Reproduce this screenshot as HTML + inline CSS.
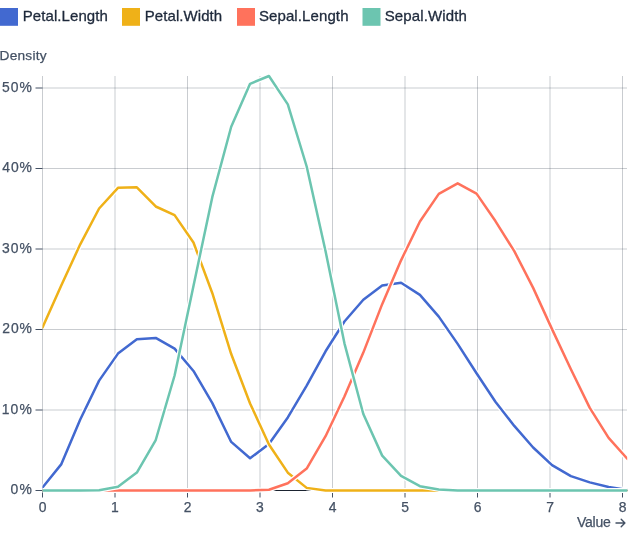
<!DOCTYPE html>
<html><head><meta charset="utf-8"><style>
html,body{margin:0;padding:0;background:#fff;width:640px;height:546px;overflow:hidden}
svg{display:block;font-family:"Liberation Sans",sans-serif;will-change:transform}
</style></head><body>
<svg width="640" height="546" viewBox="0 0 640 546">
<rect x="0" y="8" width="18" height="17.8" fill="#4269d0"/><rect x="122" y="8" width="18" height="17.8" fill="#efb118"/><rect x="237" y="8" width="18" height="17.8" fill="#ff725c"/><rect x="362.5" y="8" width="18" height="17.8" fill="#6cc5b0"/><text x="22.78" y="21.20" font-size="15" textLength="85.09" lengthAdjust="spacing" fill="#1e293b" stroke="#1e293b" stroke-width="0.3">Petal.Length</text><text x="144.73" y="21.20" font-size="15" textLength="77.46" lengthAdjust="spacing" fill="#1e293b" stroke="#1e293b" stroke-width="0.3">Petal.Width</text><text x="258.93" y="21.20" font-size="15" textLength="89.54" lengthAdjust="spacing" fill="#1e293b" stroke="#1e293b" stroke-width="0.3">Sepal.Length</text><text x="384.65" y="21.20" font-size="15" textLength="82.16" lengthAdjust="spacing" fill="#1e293b" stroke="#1e293b" stroke-width="0.3">Sepal.Width</text>
<g stroke="#1e293b" stroke-opacity="0.24" stroke-width="1"><line x1="42.5" x2="42.5" y1="76" y2="490.5" /><line x1="115.0" x2="115.0" y1="76" y2="490.5" /><line x1="187.5" x2="187.5" y1="76" y2="490.5" /><line x1="260.0" x2="260.0" y1="76" y2="490.5" /><line x1="332.5" x2="332.5" y1="76" y2="490.5" /><line x1="405.0" x2="405.0" y1="76" y2="490.5" /><line x1="477.5" x2="477.5" y1="76" y2="490.5" /><line x1="550.0" x2="550.0" y1="76" y2="490.5" /><line x1="622.5" x2="622.5" y1="76" y2="490.5" /><line x1="42.5" x2="627" y1="490.50" y2="490.50" /><line x1="42.5" x2="627" y1="410.00" y2="410.00" /><line x1="42.5" x2="627" y1="329.50" y2="329.50" /><line x1="42.5" x2="627" y1="249.00" y2="249.00" /><line x1="42.5" x2="627" y1="168.50" y2="168.50" /><line x1="42.5" x2="627" y1="88.00" y2="88.00" /></g>
<line x1="42.5" x2="627.5" y1="490.5" y2="490.5" stroke="#1b2330" stroke-width="1"/>
<g stroke="#445164" stroke-width="1"><line x1="42.5" x2="42.5" y1="490.5" y2="497.5" /><line x1="115.0" x2="115.0" y1="490.5" y2="497.5" /><line x1="187.5" x2="187.5" y1="490.5" y2="497.5" /><line x1="260.0" x2="260.0" y1="490.5" y2="497.5" /><line x1="332.5" x2="332.5" y1="490.5" y2="497.5" /><line x1="405.0" x2="405.0" y1="490.5" y2="497.5" /><line x1="477.5" x2="477.5" y1="490.5" y2="497.5" /><line x1="550.0" x2="550.0" y1="490.5" y2="497.5" /><line x1="622.5" x2="622.5" y1="490.5" y2="497.5" /><line x1="35.5" x2="42.5" y1="490.50" y2="490.50" /><line x1="35.5" x2="42.5" y1="410.00" y2="410.00" /><line x1="35.5" x2="42.5" y1="329.50" y2="329.50" /><line x1="35.5" x2="42.5" y1="249.00" y2="249.00" /><line x1="35.5" x2="42.5" y1="168.50" y2="168.50" /><line x1="35.5" x2="42.5" y1="88.00" y2="88.00" /></g>
<g fill="#445164" stroke="#445164" stroke-width="0.25"><text x="-0.40" y="60.20" font-size="13.7" textLength="46.93" lengthAdjust="spacing">Density</text><text x="576.95" y="527.20" font-size="14.0" textLength="33.84" lengthAdjust="spacing">Value</text><text x="10.51" y="494.20" font-size="13.9" textLength="21.39" lengthAdjust="spacing">0%</text><text x="1.67" y="413.70" font-size="13.9" textLength="30.23" lengthAdjust="spacing">10%</text><text x="2.34" y="333.20" font-size="13.9" textLength="29.57" lengthAdjust="spacing">20%</text><text x="2.12" y="252.70" font-size="13.9" textLength="29.79" lengthAdjust="spacing">30%</text><text x="2.36" y="172.20" font-size="13.9" textLength="29.54" lengthAdjust="spacing">40%</text><text x="1.98" y="91.70" font-size="13.9" textLength="29.92" lengthAdjust="spacing">50%</text><text x="42.54" y="511.90" font-size="13.9" text-anchor="middle">0</text><text x="114.93" y="511.90" font-size="13.9" text-anchor="middle">1</text><text x="187.68" y="511.90" font-size="13.9" text-anchor="middle">2</text><text x="259.91" y="511.90" font-size="13.9" text-anchor="middle">3</text><text x="332.70" y="511.90" font-size="13.9" text-anchor="middle">4</text><text x="405.18" y="511.90" font-size="13.9" text-anchor="middle">5</text><text x="477.74" y="511.90" font-size="13.9" text-anchor="middle">6</text><text x="550.02" y="511.90" font-size="13.9" text-anchor="middle">7</text><text x="622.69" y="511.90" font-size="13.9" text-anchor="middle">8</text><path d="M616 523H624.8M621.2 519.3L624.9 523L621.2 526.7" fill="none" stroke="#445164" stroke-width="1.4" stroke-linecap="round" stroke-linejoin="round"/></g>
<defs><clipPath id="c"><rect x="42.5" y="0" width="584.7" height="546"/></clipPath></defs><g clip-path="url(#c)"><path d="M42.50,487.57L61.37,464.11L80.24,419.43L99.11,380.60L117.98,353.61L136.86,339.37L155.73,337.88L174.60,348.63L193.47,370.94L212.34,403.17L231.21,441.93L250.08,458.28L268.95,444.01L287.82,417.42L306.69,385.58L325.57,351.29L344.44,321.47L363.31,299.78L382.18,285.54L401.05,282.68L419.92,294.92L438.79,316.60L457.66,343.87L476.53,373.24L495.41,401.74L514.28,425.91L533.15,447.47L552.02,465.13L570.89,476.12L589.76,482.35L608.63,486.92L627.50,489.94" fill="none" stroke="#fff" stroke-width="5" stroke-linejoin="round" stroke-linecap="butt"/><path d="M42.50,487.57L61.37,464.11L80.24,419.43L99.11,380.60L117.98,353.61L136.86,339.37L155.73,337.88L174.60,348.63L193.47,370.94L212.34,403.17L231.21,441.93L250.08,458.28L268.95,444.01L287.82,417.42L306.69,385.58L325.57,351.29L344.44,321.47L363.31,299.78L382.18,285.54L401.05,282.68L419.92,294.92L438.79,316.60L457.66,343.87L476.53,373.24L495.41,401.74L514.28,425.91L533.15,447.47L552.02,465.13L570.89,476.12L589.76,482.35L608.63,486.92L627.50,489.94" fill="none" stroke="#4269d0" stroke-width="2.5" stroke-linejoin="round" stroke-linecap="round"/><path d="M42.50,327.54L61.37,285.33L80.24,244.32L99.11,208.50L117.98,187.79L136.86,187.35L155.73,206.49L174.60,215.14L193.47,242.51L212.34,293.21L231.21,354.03L250.08,403.47L268.95,444.53L287.82,472.66L306.69,487.87L325.57,490.50L344.44,490.50L363.31,490.50L382.18,490.50L401.05,490.50L419.92,490.50L438.79,490.50L457.66,490.50L476.53,490.50L495.41,490.50L514.28,490.50L533.15,490.50L552.02,490.50L570.89,490.50L589.76,490.50L608.63,490.50L627.50,490.50" fill="none" stroke="#fff" stroke-width="5" stroke-linejoin="round" stroke-linecap="butt"/><path d="M42.50,327.54L61.37,285.33L80.24,244.32L99.11,208.50L117.98,187.79L136.86,187.35L155.73,206.49L174.60,215.14L193.47,242.51L212.34,293.21L231.21,354.03L250.08,403.47L268.95,444.53L287.82,472.66L306.69,487.87L325.57,490.50L344.44,490.50L363.31,490.50L382.18,490.50L401.05,490.50L419.92,490.50L438.79,490.50L457.66,490.50L476.53,490.50L495.41,490.50L514.28,490.50L533.15,490.50L552.02,490.50L570.89,490.50L589.76,490.50L608.63,490.50L627.50,490.50" fill="none" stroke="#efb118" stroke-width="2.5" stroke-linejoin="round" stroke-linecap="round"/><path d="M42.50,490.50L61.37,490.50L80.24,490.50L99.11,490.50L117.98,490.50L136.86,490.50L155.73,490.50L174.60,490.50L193.47,490.50L212.34,490.50L231.21,490.50L250.08,490.50L268.95,489.80L287.82,483.25L306.69,468.58L325.57,436.22L344.44,396.55L363.31,352.61L382.18,304.14L401.05,260.33L419.92,221.43L438.79,193.87L457.66,183.33L476.53,193.63L495.41,221.07L514.28,251.12L533.15,287.87L552.02,329.13L570.89,369.29L589.76,407.90L608.63,437.92L627.50,458.97" fill="none" stroke="#fff" stroke-width="5" stroke-linejoin="round" stroke-linecap="butt"/><path d="M42.50,490.50L61.37,490.50L80.24,490.50L99.11,490.50L117.98,490.50L136.86,490.50L155.73,490.50L174.60,490.50L193.47,490.50L212.34,490.50L231.21,490.50L250.08,490.50L268.95,489.80L287.82,483.25L306.69,468.58L325.57,436.22L344.44,396.55L363.31,352.61L382.18,304.14L401.05,260.33L419.92,221.43L438.79,193.87L457.66,183.33L476.53,193.63L495.41,221.07L514.28,251.12L533.15,287.87L552.02,329.13L570.89,369.29L589.76,407.90L608.63,437.92L627.50,458.97" fill="none" stroke="#ff725c" stroke-width="2.5" stroke-linejoin="round" stroke-linecap="round"/><path d="M42.50,490.50L61.37,490.50L80.24,490.50L99.11,490.17L117.98,486.73L136.86,472.51L155.73,440.01L174.60,375.50L193.47,285.91L212.34,196.91L231.21,126.72L250.08,83.85L268.95,76.00L287.82,104.37L306.69,166.49L325.57,251.25L344.44,343.32L363.31,413.95L382.18,455.61L401.05,475.92L419.92,486.16L438.79,489.40L457.66,490.50L476.53,490.50L495.41,490.50L514.28,490.50L533.15,490.50L552.02,490.50L570.89,490.50L589.76,490.50L608.63,490.50L627.50,490.50" fill="none" stroke="#fff" stroke-width="5" stroke-linejoin="round" stroke-linecap="butt"/><path d="M42.50,490.50L61.37,490.50L80.24,490.50L99.11,490.17L117.98,486.73L136.86,472.51L155.73,440.01L174.60,375.50L193.47,285.91L212.34,196.91L231.21,126.72L250.08,83.85L268.95,76.00L287.82,104.37L306.69,166.49L325.57,251.25L344.44,343.32L363.31,413.95L382.18,455.61L401.05,475.92L419.92,486.16L438.79,489.40L457.66,490.50L476.53,490.50L495.41,490.50L514.28,490.50L533.15,490.50L552.02,490.50L570.89,490.50L589.76,490.50L608.63,490.50L627.50,490.50" fill="none" stroke="#6cc5b0" stroke-width="2.5" stroke-linejoin="round" stroke-linecap="round"/></g>
</svg>
</body></html>
